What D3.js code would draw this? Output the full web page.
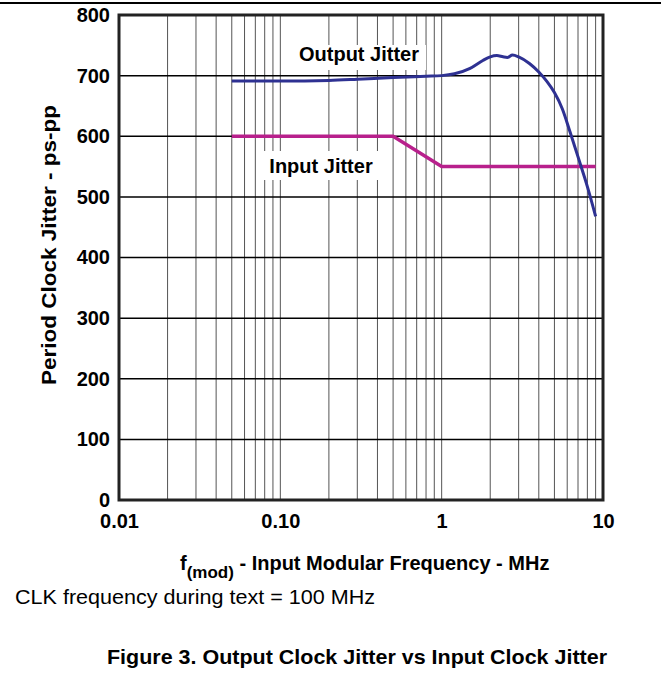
<!DOCTYPE html>
<html>
<head>
<meta charset="utf-8">
<script src="https://cdn.jsdelivr.net/npm/d3@7"></script>
<style>
    body { margin: 0; background: #fff; }
    svg { display: block; font-family: "Liberation Sans", Arial, sans-serif; }
</style>
</head>
<body>
<svg id="chart" width="661" height="692"></svg>
<script>
// output jitter curve (MHz, ps-pp)
var outFreq = [0.05, 0.1, 0.2, 0.3, 0.5, 0.8, 1.0, 1.2, 1.5, 1.8, 2.0, 2.2, 2.4, 2.55, 2.75, 3.0, 3.5, 4.0, 4.5, 5.0, 5.6, 6.25, 7.1, 8.0, 9.0];
var outJitter = [691, 691, 692, 694, 697, 699, 700, 703, 712, 725, 731, 733, 731, 730, 734, 731, 720, 706, 690, 672, 645, 607, 561, 517, 468];

// input jitter
var inFreq = [0.05, 0.5, 1.0, 9.0];
var inJitter = [600, 600, 550, 550];

var yTicks = [0, 100, 200, 300, 400, 500, 600, 700, 800];
var xTicks = [0.01, 0.1, 1, 10];
var xTickLabels = ['0.01', '0.10', '1', '10'];

var svg = d3.select('#chart');

var plotLeft = 119, plotRight = 603, plotTop = 15, plotBottom = 500;

var x = d3.scaleLog().domain([0.01, 10]).range([plotLeft, plotRight]);
var y = d3.scaleLinear().domain([0, 800]).range([plotBottom, plotTop]);

// rule across the top of the page
svg.append('line')
    .attr('x1', 0).attr('x2', 661)
    .attr('y1', 3).attr('y2', 3)
    .attr('stroke', '#000')
    .attr('stroke-width', 2);

// minor log grid
var minor = [];
[0.01, 0.1, 1].forEach(function (dec) {
    for (var k = 2; k <= 9; k++) { minor.push(dec * k); }
});
minor.push(0.1, 1);

var grid = svg.append('g');
grid.selectAll('.vgrid')
    .data(minor)
    .enter()
    .append('line')
    .attr('class', 'vgrid')
    .attr('x1', function (d) { return x(d); })
    .attr('x2', function (d) { return x(d); })
    .attr('y1', plotTop)
    .attr('y2', plotBottom)
    .attr('stroke', '#555')
    .attr('stroke-width', 1);

grid.selectAll('.hgrid')
    .data(yTicks.slice(1, -1))
    .enter()
    .append('line')
    .attr('class', 'hgrid')
    .attr('x1', plotLeft)
    .attr('x2', plotRight)
    .attr('y1', function (d) { return y(d); })
    .attr('y2', function (d) { return y(d); })
    .attr('stroke', '#000')
    .attr('stroke-width', 1.5);

// white boxes behind the series labels
svg.append('rect')
    .attr('x', 290).attr('y', 45)
    .attr('width', 136).attr('height', 25)
    .attr('fill', '#fff');
svg.append('rect')
    .attr('x', 262).attr('y', 151)
    .attr('width', 122).attr('height', 29)
    .attr('fill', '#fff');

// frame
svg.append('rect')
    .attr('x', plotLeft).attr('y', plotTop)
    .attr('width', plotRight - plotLeft).attr('height', plotBottom - plotTop)
    .attr('fill', 'none')
    .attr('stroke', '#222')
    .attr('stroke-width', 3);

// axes (labels only)
var yAxis = svg.append('g')
    .attr('transform', 'translate(' + plotLeft + ',0)')
    .call(d3.axisLeft(y).tickValues(yTicks).tickSize(0).tickPadding(9));
var xAxis = svg.append('g')
    .attr('transform', 'translate(0,' + plotBottom + ')')
    .call(d3.axisBottom(x).tickValues(xTicks)
        .tickFormat(function (d, i) { return xTickLabels[i]; })
        .tickSize(0).tickPadding(14));

[yAxis, xAxis].forEach(function (a) {
    a.select('.domain').remove();
    a.selectAll('text')
        .style('font-size', '20px')
        .style('font-weight', 'bold')
        .style('font-family', '"Liberation Sans", Arial, sans-serif')
        .attr('fill', '#000');
});

// lines
var line = d3.line()
    .x(function (d) { return x(d[0]); })
    .y(function (d) { return y(d[1]); })
    .curve(d3.curveMonotoneX);

svg.append('path')
    .datum(d3.zip(inFreq, inJitter))
    .attr('d', d3.line()
        .x(function (d) { return x(d[0]); })
        .y(function (d) { return y(d[1]); }))
    .attr('fill', 'none')
    .attr('stroke', '#b8208c')
    .attr('stroke-width', 3.5);

svg.append('path')
    .datum(d3.zip(outFreq, outJitter))
    .attr('d', line)
    .attr('fill', 'none')
    .attr('stroke', '#2e3192')
    .attr('stroke-width', 3);

// series labels
svg.append('text')
    .attr('x', 359).attr('y', 61)
    .attr('text-anchor', 'middle')
    .style('font-size', '20px').style('font-weight', 'bold')
    .text('Output Jitter');
svg.append('text')
    .attr('x', 321).attr('y', 173)
    .attr('text-anchor', 'middle')
    .style('font-size', '20px').style('font-weight', 'bold')
    .text('Input Jitter');

// axis titles
svg.append('text')
    .attr('transform', 'translate(56,105)rotate(-90)')
    .attr('x', -280)
    .style('font-size', '21px').style('font-weight', 'bold')
    .attr('textLength', 280)
    .attr('lengthAdjust', 'spacingAndGlyphs')
    .text('Period Clock Jitter - ps-pp');

var xt = svg.append('text')
    .attr('x', 180).attr('y', 570)
    .style('font-size', '20px').style('font-weight', 'bold');
xt.append('tspan').text('f');
xt.append('tspan').attr('dy', 8).style('font-size', '17px').text('(mod)');
xt.append('tspan').attr('dy', -8).text(' - Input Modular Frequency - MHz');

svg.append('text')
    .attr('x', 15).attr('y', 604)
    .style('font-size', '21px')
    .attr('textLength', 360)
    .attr('lengthAdjust', 'spacingAndGlyphs')
    .text('CLK frequency during text = 100 MHz');

svg.append('text')
    .attr('x', 107).attr('y', 664)
    .style('font-size', '21px').style('font-weight', 'bold')
    .attr('textLength', 500)
    .attr('lengthAdjust', 'spacingAndGlyphs')
    .text('Figure 3. Output Clock Jitter vs Input Clock Jitter');
</script>
</body>
</html>
